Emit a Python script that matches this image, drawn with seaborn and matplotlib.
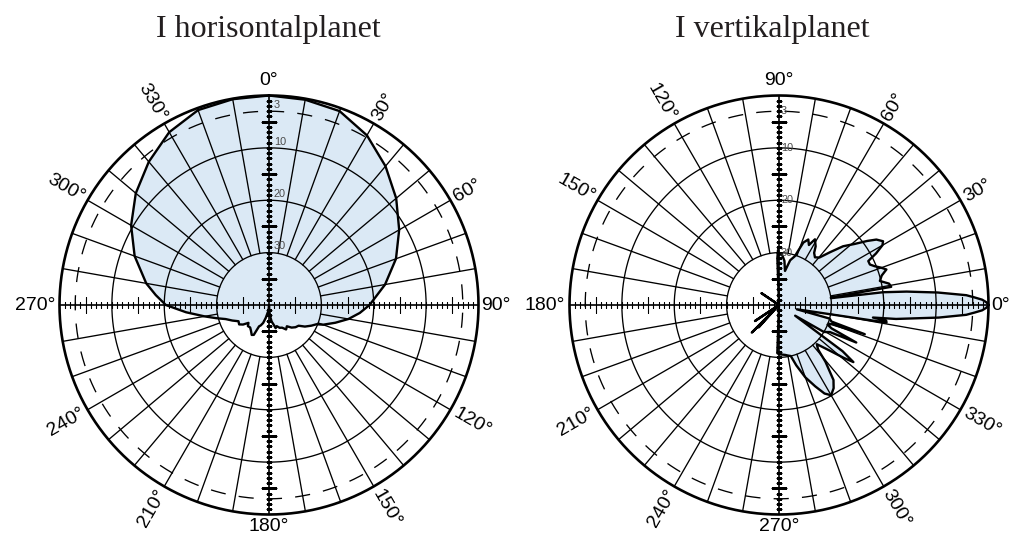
import numpy as np
import matplotlib
matplotlib.use("Agg")
import matplotlib.pyplot as plt
import seaborn as sns

# ---------------- data (attenuation in dB) ----------------
titles = ["I horisontalplanet", "I vertikalplanet"]

# horizontal plane: compass angle (0 at top, clockwise)
h_angle = [0, 10, 20, 30, 40, 50, 60, 70, 80, 90, 95, 100, 105, 110, 112, 116, 121,
           125, 130, 135, 140, 145, 150, 155, 160, 164, 167, 171, 175, 178, 180, 182,
           186, 190, 194, 198, 202, 205, 207, 210, 215, 220, 225, 229, 233, 237, 242,
           247, 252, 256, 260, 265, 270, 275, 280, 290, 300, 310, 320, 330, 340, 350]
h_att = [0.0, 0.2, 0.6, 2.6, 5.4, 8.3, 11.3, 14.2, 17.5, 20.8, 22.6, 24.6, 26.9, 29.0,
         30.2, 31.0, 32.0, 33.1, 33.4, 33.9, 34.7, 34.3, 35.0, 35.2, 35.7, 35.4, 36.2,
         36.8, 38.0, 39.6, 40.0, 39.6, 38.8, 38.5, 37.5, 36.4, 35.8, 35.5, 33.6, 33.4,
         34.0, 34.4, 34.3, 34.8, 33.8, 33.2, 33.4, 32.4, 31.3, 29.6, 27.5, 24.1, 20.3,
         18.3, 16.2, 12.7, 9.6, 6.8, 4.3, 1.9, 0.4, 0.1]

# vertical plane: math angle (0 at right, counter-clockwise)
v_angle = [0, 0.75, 1.5, 2.2, 3, 4.5, 6, 7.0, 7.5, 8.3, 9.2, 11, 13.4, 16, 18.3, 20, 22.1,
           24, 26.2, 28, 30, 31.5, 33.9, 36, 39, 42.5, 46, 49.6, 53, 56, 58, 61.3, 63.5,
           65.9, 68.7, 70.5, 72, 76, 80, 83, 87, 90, 91, 92, 94, 144, 146, 148, 211,
           213.7, 216, 223, 225.4, 226.5, 227.6, 230, 266, 268, 270, 277, 280, 283,
           286, 290, 294, 297.2, 300, 303.3, 306, 309.3, 311.3, 314, 318, 320.8, 322.5,
           324, 326.5, 329, 332, 334.1, 336, 338, 340, 341.2, 342.5, 345, 346.5, 350.7,
           351.6, 352.4, 353.2, 355.5, 357, 357.8, 358.5, 359.25, 360]
v_att = [0.0, 0.4, 1.2, 2.6, 4.2, 9.6, 15.5, 20.0, 30.0, 30.0, 18.3, 18.6, 20.2, 19.6,
         18.4, 19.2, 20.3, 21.0, 21.0, 19.0, 17.2, 16.7, 17.6, 19.2, 21.5, 23.4, 26.0,
         28.1, 28.6, 28.0, 26.8, 25.7, 27.2, 26.3, 27.2, 29.0, 30.2, 31.2, 33.4, 31.5,
         30.2, 30.5, 29.5, 31.0, 40.0, 40.0, 36.0, 40.0, 40.0, 34.5, 40.0, 40.0, 32.6,
         37.0, 34.2, 40.0, 40.0, 30.8, 30.6, 30.4, 30.2, 30.0, 28.0, 25.3, 23.0, 21.0,
         20.1, 21.0, 22.3, 26.0, 28.7, 29.6, 27.0, 24.0, 22.1, 25.0, 36.3, 30.0, 29.0,
         23.6, 29.0, 30.0, 29.3, 22.7, 29.5, 30.0, 36.5, 19.2, 19.3, 21.9, 17.5, 9.4,
         4.2, 2.6, 1.2, 0.4, 0.0]

ring_values = [3, 10, 20, 30]
ring_labels = ["3", "10", "20", "30"]
angle_ticks = [0, 30, 60, 90, 120, 150, 180, 210, 240, 270, 300, 330]

# ---------------- style ----------------
sns.set_style("white")
plt.rcParams["font.family"] = ["Liberation Sans", "DejaVu Sans"]

W, H = 1011, 535
fig = plt.figure(figsize=(W / 100, H / 100), dpi=100)
R_PX = 209.5
FILL = "#DBE9F5"
LW_GRID = 0.95
FS = 14


def add_polar(cx, cy):
    return fig.add_axes([(cx - R_PX) / W, (H - cy - R_PX) / H, 2 * R_PX / W, 2 * R_PX / H],
                        projection="polar")


def draw(ax, angles, att, zero, direction, vert_axis, ring_off):
    ax.set_theta_zero_location(zero)
    ax.set_theta_direction(direction)
    th = np.deg2rad(np.array(angles, dtype=float))
    r = 40 - np.array(att, dtype=float)
    th = np.append(th, th[0] + 2 * np.pi)
    r = np.append(r, r[0])
    ax.fill(th, r, color=FILL, lw=0, zorder=1)
    sns.lineplot(x=th, y=r, ax=ax, sort=False, estimator=None, color="black",
                 lw=1.7, zorder=6, clip_on=False)

    full = np.linspace(0, 2 * np.pi, 721)
    ax.plot(full, np.full_like(full, 40), color="black", lw=1.9, zorder=5, clip_on=False)
    for rr in (10, 20, 30):
        ax.plot(full, np.full_like(full, rr), color="black", lw=LW_GRID, zorder=3)
    ax.plot(full, np.full_like(full, 37), color="black", lw=LW_GRID, zorder=3,
            dashes=(11.5, 10))
    for a in range(10, 360, 10):
        if a % 90:
            ax.plot([np.deg2rad(a)] * 2, [10, 40], color="black", lw=LW_GRID, zorder=3)
    for a in (0, 90, 180, 270):
        ax.plot([np.deg2rad(a)] * 2, [0, 40], color="black", lw=1.2, zorder=4)

    rs = np.arange(1, 40)
    major = np.isin(rs, [5, 15, 25, 35])
    for a in (0, 90, 180, 270):
        mk = "_" if a in vert_axis else "|"
        t = np.full(int((~major).sum()), np.deg2rad(a))
        ax.plot(t, rs[~major], ls="none", marker=mk, ms=4.8, mew=0.8, color="black", zorder=4)
        t = np.full(int(major.sum()), np.deg2rad(a))
        ax.plot(t, rs[major], ls="none", marker=mk, ms=11.5, mew=0.8, color="black", zorder=4)

    for v, lbl in zip(ring_values, ring_labels):
        ax.annotate(lbl, xy=(np.deg2rad(vert_axis[0]), 40 - v), xytext=ring_off,
                    textcoords="offset points", fontsize=7.8, color="#4a4a4a",
                    ha="left", va="center", zorder=7)

    ax.set_ylim(0, 40)
    ax.set_xticks([])
    ax.set_yticks([])
    ax.grid(False)
    ax.spines["polar"].set_visible(False)
    ax.set_facecolor("none")
    ax.set_xlabel("")
    ax.set_ylabel("")


def math_angle(ax_angle, zero):
    return 90 - ax_angle if zero == "N" else ax_angle


def put_labels(ax, zero):
    kw = dict(fontsize=FS, color="black", clip_on=False)
    for a in angle_ticks:
        m = (math_angle(a, zero) + 180) % 360 - 180
        th = np.deg2rad(a)
        s = f"{a}°"
        if abs(m - 90) < 1:
            ax.text(th, 41.3, s, ha="center", va="bottom", **kw)
        elif abs(m + 90) < 1:
            ax.text(th, 40.6, s, ha="center", va="top", **kw)
        elif abs(m) < 1:
            ax.text(th, 40.5, s, ha="left", va="center", **kw)
        elif abs(abs(m) - 180) < 1:
            ax.text(th, 40.8, s, ha="right", va="center", **kw)
        elif -90 < m < 90:
            ax.text(th, 40.9, s, ha="left", va="center", rotation=m,
                    rotation_mode="anchor", **kw)
        else:
            ax.text(th, 40.9, s, ha="right", va="center",
                    rotation=m - 180 if m > 0 else m + 180, rotation_mode="anchor", **kw)


ax1 = add_polar(269, 305)
draw(ax1, h_angle, h_att, "N", -1, (0, 180), (3.5, 4.5))
put_labels(ax1, "N")

ax2 = add_polar(779, 305)
draw(ax2, v_angle, v_att, "E", 1, (90, 270), (1.5, 0))
put_labels(ax2, "E")

fig.text(268 / W, 1 - 37.3 / H, titles[0], ha="center", va="baseline", fontsize=23,
         family="Liberation Serif", color="#231f20")
fig.text(772.5 / W, 1 - 37.3 / H, titles[1], ha="center", va="baseline", fontsize=23,
         family="Liberation Serif", color="#231f20")

fig.savefig("out.png", dpi=100, facecolor="white")
